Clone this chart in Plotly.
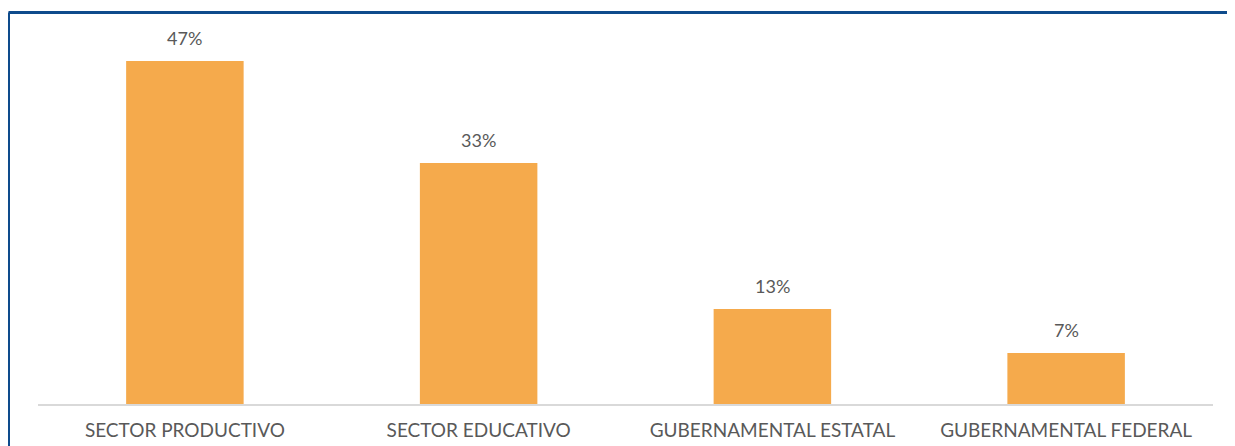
import plotly.graph_objects as go

categories = ["SECTOR PRODUCTIVO", "SECTOR EDUCATIVO", "GUBERNAMENTAL ESTATAL", "GUBERNAMENTAL FEDERAL"]
values = [47, 33, 13, 7]
labels = ["47%", "33%", "13%", "7%"]

# the page body adds an 8px offset, so the figure's own coords are shifted
W, H = 1235, 446
ml, mr, mt, mb = 30, 30, 12, 50
pw, ph = W - ml - mr, H - mt - mb

fig = go.Figure()
fig.add_trace(go.Bar(x=categories, y=values, marker_color="#F5AA4C",
                     marker_line_width=0, hoverinfo="skip"))

for c, v, t in zip(categories, values, labels):
    fig.add_annotation(x=c, y=v, text=t, showarrow=False, yanchor="bottom",
                       yshift=10, font=dict(family="Lato", size=18, color="#595959"))

# blue frame (top and left edges)
x_left = (0.5 - ml) / pw
x_right = (W - ml) / pw
y_top = (H - mb - 4.5) / ph
y_bot = (H - mb - H) / ph
fig.add_shape(type="line", xref="paper", yref="paper", x0=x_left, x1=x_right, y0=y_top, y1=y_top,
              line=dict(color="#0E4B8C", width=3))
fig.add_shape(type="line", xref="paper", yref="paper", x0=x_left, x1=x_left, y0=y_top, y1=y_bot,
              line=dict(color="#0E4B8C", width=3))

fig.update_xaxes(showline=True, linecolor="#D9D9D9", linewidth=1.5, ticks="",
                 ticklabelstandoff=8,
                 tickfont=dict(family="Lato", size=19, color="#595959"))
fig.update_yaxes(visible=False, range=[0, ph / 7.3])
fig.update_layout(width=W, height=H, margin=dict(l=ml, r=mr, t=mt, b=mb),
                  plot_bgcolor="white", paper_bgcolor="white", bargap=0.6,
                  showlegend=False)
fig.write_html("out.html")
